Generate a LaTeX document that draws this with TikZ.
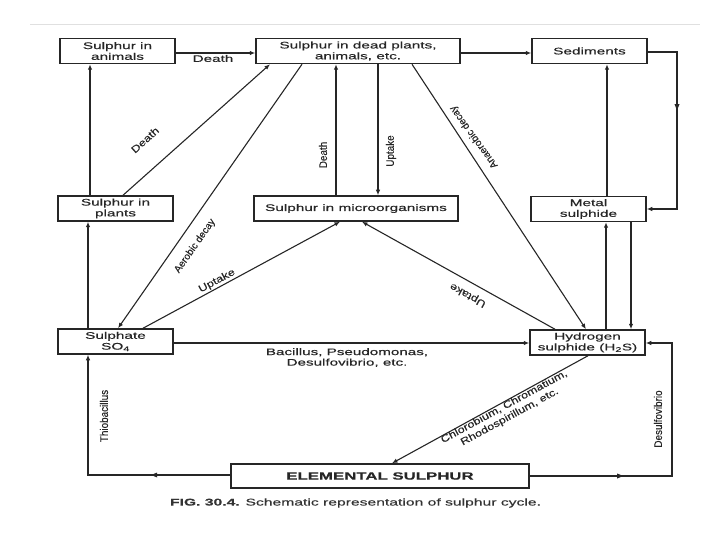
\documentclass[tikz,border=0pt]{standalone}
\usepackage{fontspec}
\setmainfont{Liberation Sans}[FakeStretch=1.6,FakeBold=0.4]
\newfontfamily\vlab{Liberation Sans}[FakeStretch=0.9,FakeBold=0.3]
\newfontfamily\dlabA{Liberation Sans}[FakeStretch=1.0,FakeBold=0.3]
\newfontfamily\dlabB{Liberation Sans}[FakeStretch=1.25,FakeBold=0.3]
\usetikzlibrary{arrows.meta,decorations.markings}
\begin{document}
\begin{tikzpicture}[x=1pt,y=-1pt,
  box/.style={draw=black!85, line width=1.5pt, minimum height=25pt, inner sep=1pt,
    align=center, text=black!85, font=\fontsize{9.6}{10.8}\selectfont},
  arr/.style={draw=black!85, line width=1.1pt, -{Latex[length=5.5pt,width=4.5pt]}},
  midarr/.style={postaction={decorate}, decoration={markings,
    mark=at position #1 with {\fill[black!85] (3pt,0) -- (-3pt,2.5pt) -- (-3pt,-2.5pt) -- cycle;}}},
  hlab/.style={text=black!85, align=center, inner sep=1pt, font=\fontsize{9.5}{10.5}\selectfont},
  vlabel/.style={text=black!85, inner sep=1pt, rotate=90, font=\vlab\fontsize{11}{12}\selectfont},
  dlabelA/.style={text=black!85, inner sep=1pt, font=\dlabA\fontsize{10}{12}\selectfont},
  dlabelB/.style={text=black!85, inner sep=1pt, align=center, font=\dlabB\fontsize{10}{11.5}\selectfont}
]
\useasboundingbox (0,0) rectangle (720,540);
\draw[black!12, line width=0.6pt] (30,24) -- (700,24);

% boxes
\node[box, minimum width=115pt] (animals) at (117.5,51) {Sulphur in\\animals};
\node[box, minimum width=204pt] (dead) at (358,51) {Sulphur in dead plants,\\animals, etc.};
\node[box, minimum width=115pt] (sed) at (589.5,51) {Sediments};
\node[box, minimum width=115pt] (plants) at (115.5,208.5) {Sulphur in\\plants};
\node[box, minimum width=204pt] (micro) at (356,208.5) {Sulphur in microorganisms};
\node[box, minimum width=115pt] (metal) at (588.5,209) {Metal\\sulphide};
\node[box, minimum width=115pt] (sulphate) at (115.5,341.5) {Sulphate\\SO\textsubscript{4}};
\node[box, minimum width=115pt] (h2s) at (587.5,342.5) {Hydrogen\\sulphide (H\textsubscript{2}S)};
\node[box, minimum width=298pt, minimum height=24pt, font=\bfseries\fontsize{10.5}{12}\selectfont] (elem) at (380,476) {ELEMENTAL SULPHUR};

% top row
\draw[arr] (animals.east |- 0,53) -- (dead.west |- 0,53);
\node[hlab] (ldeath1) at (213,58.5) {Death};
\draw[arr] (dead.east |- 0,53) -- (sed.west |- 0,53);

% sediments -> metal sulphide
\coordinate (c1) at (677,52);
\coordinate (c2) at (677,209);
\draw[arr, midarr=0.39] (sed.east |- c1) -- (c1) -- (c2) -- (metal.east |- c2);
\draw[arr] (metal.north -| 607,0) -- (sed.south -| 607,0);

% left column
\draw[arr] (plants.north -| 90,0) -- (animals.south -| 90,0);
\draw[arr] (sulphate.north -| 88,0) -- (plants.south -| 88,0);
\draw[arr] (plants.north -| 123,0) -- (dead.south -| 270,0);
\node[dlabelB, rotate=42] (ldeath2) at (145,140) {Death};
\draw[arr] (dead.south -| 302,0) -- (sulphate.north -| 118,0);
\node[dlabelA, rotate=55] (laer) at (195,246) {Aerobic decay};

% middle verticals
\draw[arr] (micro.north -| 336,0) -- (dead.south -| 336,0);
\node[vlabel] (ldeath3) at (323,155) {Death};
\draw[arr] (dead.south -| 378,0) -- (micro.north -| 378,0);
\node[vlabel] (lup1) at (391,151) {Uptake};

% anaerobic decay
\draw[arr] (dead.south -| 412,0) -- (h2s.north -| 586,0);
\node[dlabelA, rotate=126] (lanaer) at (474,137) {Anaerobic decay};

% uptake to microorganisms
\draw[arr] (sulphate.north -| 143,0) -- (micro.south -| 340,0);
\node[dlabelB, rotate=28] (lup2) at (217,281) {Uptake};
\draw[arr] (h2s.north -| 555,0) -- (micro.south -| 362,0);
\node[dlabelB, rotate=151] (lup3) at (468,295) {Uptake};

% sulphate -> H2S
\draw[arr] (sulphate.east |- 0,343) -- (h2s.west |- 0,343);
\node[hlab] (lbac) at (347,357.5) {Bacillus, Pseudomonas,\\Desulfovibrio, etc.};

% metal <-> H2S
\draw[arr] (h2s.north -| 606,0) -- (metal.south -| 606,0);
\draw[arr] (metal.south -| 631,0) -- (h2s.north -| 631,0);

% H2S -> elemental
\draw[arr] (h2s.south -| 588,0) -- (elem.north -| 392,0);
\node[dlabelB, rotate=28.6] (lchl) at (507,412) {Chlorobium, Chromatium,\\Rhodospirillum, etc.};

% elemental -> sulphate
\coordinate (c3) at (88,475);
\draw[arr, midarr=0.29] (elem.west |- c3) -- (c3) -- (sulphate.south -| c3);
\node[vlabel] (lthio) at (104,416) {Thiobacillus};

% elemental -> H2S
\coordinate (c4) at (672,476);
\coordinate (c5) at (672,343);
\draw[arr, midarr=0.30] (elem.east |- c4) -- (c4) -- (c5) -- (h2s.east |- c5);
\node[vlabel] (ldesulf) at (658,419) {Desulfovibrio};

% caption
\node[text=black!80, inner sep=0pt, font=\fontsize{9.8}{11}\selectfont] (cap) at (355.5,503)
  {\textbf{FIG. 30.4.} Schematic representation of sulphur cycle.};
\end{tikzpicture}
\end{document}
